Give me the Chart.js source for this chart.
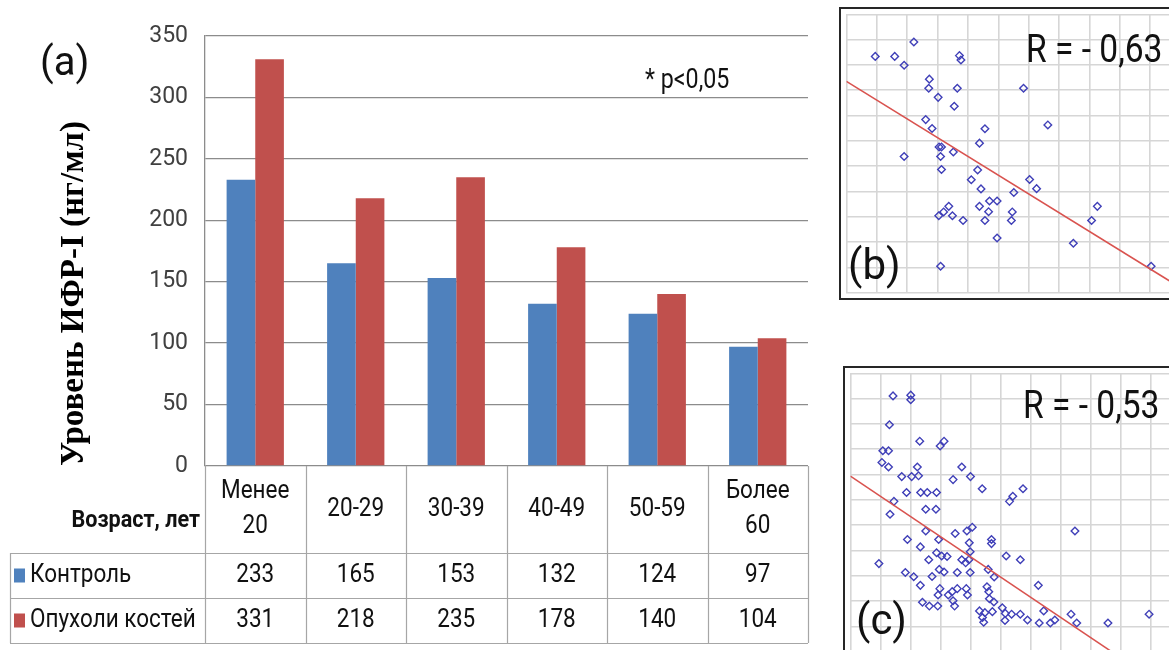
<!DOCTYPE html>
<html>
<head>
<meta charset="utf-8">
<script src="https://cdn.jsdelivr.net/npm/chart.js@4.4.1/dist/chart.umd.min.js"></script>
<style>
  html, body { margin: 0; padding: 0; background: #fff; width: 1169px; height: 650px; overflow: hidden; }
  canvas { position: absolute; }
  .box { position: absolute; border: 2px solid #262626; box-sizing: border-box; }
  .lbl { position: absolute; white-space: nowrap; color: #111; font-family: Roboto, sans-serif; }
  .narrow { transform: scaleX(0.86); transform-origin: left center; }
</style>
</head>
<body>
<canvas id="barChart" width="830" height="650" style="left:0;top:0"></canvas>

<div class="box" style="left:839px;top:7px;width:360px;height:293px"></div>
<canvas id="scatterB" width="345" height="289" style="left:841px;top:9px"></canvas>

<div class="box" style="left:843px;top:366px;width:360px;height:293px"></div>
<canvas id="scatterC" width="341" height="289" style="left:845px;top:368px"></canvas>

<div class="lbl" style="left:40px;top:42px;font-size:40px;line-height:40px">(a)</div>
<div class="lbl narrow" style="left:645px;top:66px;font-size:27px;line-height:27px">* p&lt;0,05</div>
<div class="lbl narrow" style="left:1026px;top:30px;font-size:39px;line-height:39px">R = - 0,63</div>
<div class="lbl" style="left:848px;top:244px;font-size:42px;line-height:42px">(b)</div>
<div class="lbl narrow" style="left:1023px;top:386px;font-size:39px;line-height:39px">R = - 0,53</div>
<div class="lbl" style="left:856px;top:599px;font-size:42px;line-height:42px">(c)</div>

<script>
const FONT = "Roboto, sans-serif";
const BLUE = '#4f81bd';
const RED = '#c0504d';

// (a) IGF-I levels by age group
const ageGroups = [['Менее', '20'], '20-29', '30-39', '40-49', '50-59', ['Более', '60']];
const ageTitle = 'Возраст, лет';
const controlName = 'Контроль';
const tumorName = 'Опухоли костей';
const controlValues = [233, 165, 153, 132, 124, 97];
const tumorValues = [331, 218, 235, 178, 140, 104];
const yTicks = [0, 50, 100, 150, 200, 250, 300, 350];

// (b) scatter, grid units
const pointsB = [
  [0.95, 9.34], [1.59, 9.34], [1.90, 8.99], [2.22, 9.91], [3.72, 9.37], [3.77, 9.20],
  [2.73, 8.44], [2.71, 8.08], [3.65, 8.08], [3.02, 7.72], [3.55, 7.37], [5.83, 8.08],
  [2.61, 6.84], [2.82, 6.49], [4.56, 6.48], [6.63, 6.63], [4.38, 5.91], [1.90, 5.38],
  [3.05, 5.76], [3.13, 5.76], [3.10, 5.38], [3.52, 5.56], [3.13, 4.87], [4.32, 4.85],
  [4.11, 4.46], [4.43, 4.10], [5.51, 3.96], [6.03, 4.47], [6.26, 4.11], [4.71, 3.62],
  [4.96, 3.62], [4.38, 3.41], [4.68, 3.20], [3.37, 3.41], [3.20, 3.19], [3.04, 3.04],
  [3.49, 3.04], [3.84, 2.85], [4.56, 2.85], [5.46, 3.19], [5.43, 2.85], [4.96, 2.16],
  [8.26, 3.41], [8.07, 2.85], [7.47, 1.95], [3.10, 1.04], [10.03, 1.04]
];
const trendB = [[0, 8.35], [11, 0.19]];

// (c) scatter
const pointsC = [
  [1.42, 10.11], [2.01, 10.14], [2.01, 9.96], [1.30, 8.97], [2.31, 8.32], [2.99, 8.13],
  [3.12, 8.32], [1.08, 7.94], [1.27, 7.94], [1.05, 7.48], [1.27, 7.30], [1.71, 6.92],
  [2.04, 6.92], [2.23, 7.30], [2.27, 6.95], [3.71, 7.30], [3.42, 6.80], [4.00, 6.92],
  [4.39, 6.44], [5.75, 6.44], [5.30, 5.94], [5.41, 6.14], [1.87, 6.29], [2.34, 6.29],
  [2.56, 6.29], [2.87, 6.29], [1.45, 5.94], [2.51, 5.63], [2.85, 5.63], [1.32, 5.43],
  [2.51, 4.77], [1.90, 4.43], [2.33, 4.14], [2.94, 4.43], [3.49, 4.67], [3.88, 4.77],
  [4.06, 4.92], [3.96, 4.30], [3.99, 3.95], [4.70, 4.43], [4.70, 4.27], [7.48, 4.77],
  [0.95, 3.48], [2.61, 3.63], [2.87, 3.91], [3.04, 3.78], [3.22, 3.76], [3.71, 3.63],
  [3.84, 3.51], [3.95, 3.63], [5.19, 3.78], [5.66, 3.63], [1.83, 3.13], [2.11, 2.96],
  [2.72, 2.97], [2.96, 3.25], [3.12, 3.15], [3.56, 3.13], [3.99, 3.13], [4.59, 3.25],
  [4.79, 2.95], [2.33, 2.62], [2.98, 2.49], [2.92, 2.24], [3.26, 2.24], [3.39, 2.37],
  [3.56, 2.49], [3.86, 2.49], [3.90, 2.24], [4.55, 2.56], [4.61, 2.37], [6.26, 2.62],
  [2.40, 1.95], [2.63, 1.80], [2.91, 1.80], [3.47, 1.80], [3.42, 2.01], [4.63, 2.09],
  [4.78, 1.96], [4.30, 1.61], [4.48, 1.54], [4.40, 1.35], [4.44, 1.16], [4.73, 1.58],
  [5.06, 1.73], [5.16, 1.51], [5.15, 1.23], [5.37, 1.48], [5.66, 1.48], [5.90, 1.25],
  [6.29, 1.13], [6.44, 1.61], [6.66, 1.13], [6.81, 1.25], [7.35, 1.48], [7.54, 1.13],
  [8.58, 1.13], [9.95, 1.48]
];
const trendC = [[0, 6.94], [8.7, 0]];

// text squeezed a bit sideways, the source font is narrower than Roboto
function narrowText(ctx, text, x, y, align) {
  const k = 0.9;
  const w = ctx.measureText(text).width * k;
  let x0 = x;
  if (align === 'center') x0 = x - w / 2;
  if (align === 'right') x0 = x - w;
  ctx.save();
  ctx.textAlign = 'left';
  ctx.translate(x0, y);
  ctx.scale(k, 1);
  ctx.fillText(text, 0, 0);
  ctx.restore();
}

// data table drawn under the bars, lined up with the category scale
const tablePlugin = {
  id: 'dataTable',
  afterDraw(chart) {
    const { ctx, chartArea: area, scales } = chart;
    const x = scales.x;
    const n = ageGroups.length;
    const colW = (area.right - area.left) / n;
    const top = area.bottom;
    const headBottom = top + 87;
    const rowH = 45;
    const tableLeft = 10;
    const rows = [
      { name: controlName, color: BLUE, values: controlValues },
      { name: tumorName, color: RED, values: tumorValues }
    ];
    const bottom = headBottom + rows.length * rowH;

    ctx.save();
    ctx.strokeStyle = '#a6a6a6';
    ctx.lineWidth = 1.2;
    ctx.beginPath();
    for (let i = 0; i <= n; i++) {
      const xx = Math.round(area.left + i * colW) + 0.5;
      ctx.moveTo(xx, top);
      ctx.lineTo(xx, bottom);
    }
    for (let r = 0; r <= rows.length; r++) {
      const yy = Math.round(headBottom + r * rowH) + 0.5;
      ctx.moveTo(tableLeft, yy);
      ctx.lineTo(area.right, yy);
    }
    ctx.moveTo(tableLeft + 0.5, headBottom);
    ctx.lineTo(tableLeft + 0.5, bottom);
    ctx.stroke();

    ctx.fillStyle = '#111';
    ctx.textBaseline = 'middle';
    ctx.font = '25px ' + FONT;
    const midHead = (top + headBottom) / 2;
    ageGroups.forEach((lab, i) => {
      const cx = x.getPixelForValue(i);
      const lines = Array.isArray(lab) ? lab : [lab];
      lines.forEach((t, k) => {
        narrowText(ctx, t, cx, midHead + (k - (lines.length - 1) / 2) * 35, 'center');
      });
    });

    ctx.font = 'bold 24px ' + FONT;
    narrowText(ctx, ageTitle, area.left - 5, midHead + 11, 'right');

    rows.forEach((row, r) => {
      const cy = headBottom + r * rowH + rowH / 2;
      ctx.fillStyle = row.color;
      ctx.fillRect(14, cy - 7, 11, 14);
      ctx.fillStyle = '#111';
      ctx.font = '25px ' + FONT;
      narrowText(ctx, row.name, 30, cy, 'left');
      row.values.forEach((v, i) => narrowText(ctx, String(v), x.getPixelForValue(i), cy, 'center'));
    });
    ctx.restore();
  }
};

new Chart(document.getElementById('barChart'), {
  type: 'bar',
  data: {
    labels: ageGroups,
    datasets: [
      { label: controlName, data: controlValues, backgroundColor: BLUE },
      { label: tumorName, data: tumorValues, backgroundColor: RED }
    ]
  },
  options: {
    responsive: false,
    animation: false,
    layout: { padding: { left: 0, top: 36, right: 22, bottom: 184 } },
    datasets: { bar: { categoryPercentage: 0.57, barPercentage: 1.0 } },
    plugins: { legend: { display: false }, tooltip: { enabled: false } },
    scales: {
      x: { display: false },
      y: {
        min: 0,
        max: 350,
        afterBuildTicks: s => { s.ticks = yTicks.map(v => ({ value: v })); },
        afterFit: s => { s.width = 205; },
        ticks: { color: '#404040', padding: 17, font: { family: FONT, size: 23 } },
        grid: { color: '#8c8c8c', lineWidth: 1.3, drawTicks: false },
        border: { color: '#8c8c8c', width: 1.3 },
        title: {
          display: true,
          text: 'Уровень ИФР-I (нг/мл)',
          align: 'start',
          color: '#000',
          padding: { top: 55, bottom: 0 },
          font: { family: "'Liberation Serif', 'DejaVu Serif', serif", weight: 'bold', size: 33 }
        }
      }
    }
  },
  plugins: [tablePlugin]
});

function scatterConfig(points, trend) {
  const gridAxis = {
    type: 'linear',
    min: 0,
    max: 11,
    ticks: { display: false, stepSize: 1 },
    grid: { color: '#d6d6d6', lineWidth: 1.6, drawTicks: false },
    border: { display: false }
  };
  return {
    type: 'scatter',
    data: {
      datasets: [
        {
          data: trend.map(p => ({ x: p[0], y: p[1] })),
          showLine: true,
          borderColor: '#d9534f',
          borderWidth: 1.6,
          pointRadius: 0
        },
        {
          data: points.map(p => ({ x: p[0], y: p[1] })),
          pointStyle: 'rectRot',
          pointRadius: 3.8,
          borderColor: '#4040b8',
          backgroundColor: 'rgba(255,255,255,0)',
          borderWidth: 1.4
        }
      ]
    },
    options: {
      responsive: false,
      animation: false,
      layout: { padding: 0 },
      plugins: { legend: { display: false }, tooltip: { enabled: false } },
      scales: { x: gridAxis, y: gridAxis }
    }
  };
}

new Chart(document.getElementById('scatterB'), scatterConfig(pointsB, trendB));
new Chart(document.getElementById('scatterC'), scatterConfig(pointsC, trendC));
</script>
</body>
</html>
